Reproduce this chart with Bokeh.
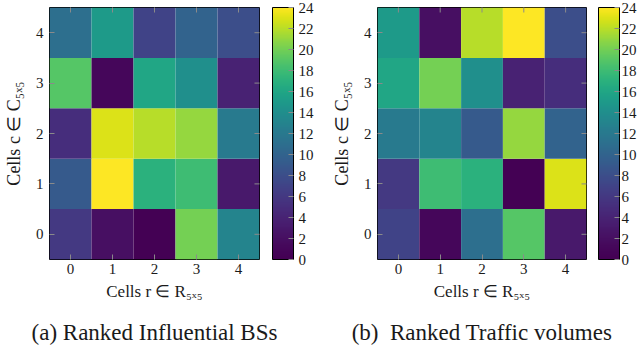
import math
from bokeh.plotting import figure
from bokeh.models import (ColumnDataSource, LinearColorMapper, ColorBar, FixedTicker,
                          Title, Range1d)
from bokeh.palettes import Viridis256
from bokeh.transform import transform
from bokeh.layouts import row
from bokeh.embed import file_html
from bokeh.resources import INLINE

# cell indices
cells_r = [0, 1, 2, 3, 4]
cells_c = [0, 1, 2, 3, 4]
cbar_ticks = [0, 2, 4, 6, 8, 10, 12, 14, 16, 18, 20, 22, 24]

# rank values, one list per row c (index = r)
influential_c0 = [6, 2, 0, 20, 13]
influential_c1 = [9, 24, 17, 18, 3]
influential_c2 = [5, 23, 22, 21, 12]
influential_c3 = [19, 1, 16, 14, 4]
influential_c4 = [11, 15, 7, 10, 8]

traffic_c0 = [7, 1, 11, 19, 3]
traffic_c1 = [6, 18, 17, 0, 23]
traffic_c2 = [12, 13, 9, 21, 10]
traffic_c3 = [16, 20, 14, 4, 5]
traffic_c4 = [15, 2, 22, 24, 8]

caption_a = "(a) Ranked Influential BSs"
caption_b = "(b)\u00a0 Ranked Traffic volumes"
xlabel = "Cells r \u2208 R\u2085\u2093\u2085"
ylabel = "Cells c \u2208 C\u2085\u2093\u2085"

FONT = "Liberation Serif"
GREY = "#8a8a8a"
TXT = "#1a1a1a"

# viridis, sampled the way the printed colour bar looks (slightly darker mid tones)
PALETTE = [Viridis256[min(255, round(255 * (i / 255) ** 1.3))] for i in range(256)]


def build(rows, caption, width, left, frame_w, right, gap, standoff):
    xs, ys, vs = [], [], []
    for c, vals in zip(cells_c, rows):
        for r, v in zip(cells_r, vals):
            xs.append(r)
            ys.append(c)
            vs.append(v)
    src = ColumnDataSource(dict(x=xs, y=ys, v=vs))
    mapper = LinearColorMapper(palette=PALETTE, low=0, high=24)

    xr = Range1d(-0.5, 4.5)
    yr = Range1d(-0.5, 4.5)
    p = figure(width=width, height=348, frame_width=frame_w, frame_height=252,
               x_range=xr, y_range=yr,
               output_backend="svg", toolbar_location=None,
               min_border_left=left, min_border_right=right,
               min_border_top=7, min_border_bottom=89)
    p.rect("x", "y", width=1, height=1, source=src,
           fill_color=transform("v", mapper), line_color=None)
    # inward ticks on the top and right edges (clipped to the frame)
    p.scatter(x=cells_r, y=[xr.end] * len(cells_r), marker="dash", size=10,
              angle=math.pi / 2, line_color=GREY, line_width=1)
    p.scatter(x=[xr.end] * len(cells_c), y=cells_c, marker="dash", size=10,
              line_color=GREY, line_width=1)

    p.grid.visible = False
    p.outline_line_color = "black"
    p.outline_line_width = 1
    p.background_fill_color = "white"
    p.border_fill_color = "white"

    for ax in (p.xaxis[0], p.yaxis[0]):
        ax.ticker = FixedTicker(ticks=cells_r)
        ax.major_tick_in = 5
        ax.major_tick_out = 0
        ax.major_tick_line_color = GREY
        ax.minor_tick_line_color = None
        ax.axis_line_color = None
        ax.major_label_text_font = FONT
        ax.major_label_text_font_size = "15px"
        ax.major_label_text_color = TXT
        ax.axis_label_text_font = FONT
        ax.axis_label_text_font_style = "normal"
        ax.axis_label_text_color = TXT
    p.xaxis.axis_label = xlabel
    p.yaxis.axis_label = ylabel
    p.xaxis.axis_label_text_font_size = "17px"
    p.yaxis.axis_label_text_font_size = "18px"
    p.xaxis.major_label_standoff = 4
    p.yaxis.major_label_standoff = 6
    p.xaxis.axis_label_standoff = 5
    p.yaxis.axis_label_standoff = 9

    cb = ColorBar(color_mapper=mapper, ticker=FixedTicker(ticks=cbar_ticks),
                  width=21, height=252, padding=0, margin=0,
                  bar_line_color="black", bar_line_width=1,
                  major_tick_in=5, major_tick_out=0,
                  major_tick_line_color=GREY, minor_tick_line_color=None,
                  major_label_text_font=FONT, major_label_text_font_size="15px",
                  major_label_text_color=TXT, label_standoff=standoff,
                  border_line_color=None, background_fill_color=None,
                  location=(gap, 0))
    p.add_layout(cb, "right")

    t = Title(text=caption, align="center", text_font=FONT,
              text_font_size="23px", text_font_style="normal",
              text_color=TXT, standoff=28, vertical_align="bottom")
    p.add_layout(t, "below")
    return p


pa = build([influential_c0, influential_c1, influential_c2, influential_c3, influential_c4],
           caption_a, 327, 48, 210, 69, 13, 5)
pb = build([traffic_c0, traffic_c1, traffic_c2, traffic_c3, traffic_c4],
           caption_b, 310, 48, 209, 53, 12, 2)

layout = row(pa, pb, spacing=0)
open("out.html", "w").write(file_html(layout, INLINE))
